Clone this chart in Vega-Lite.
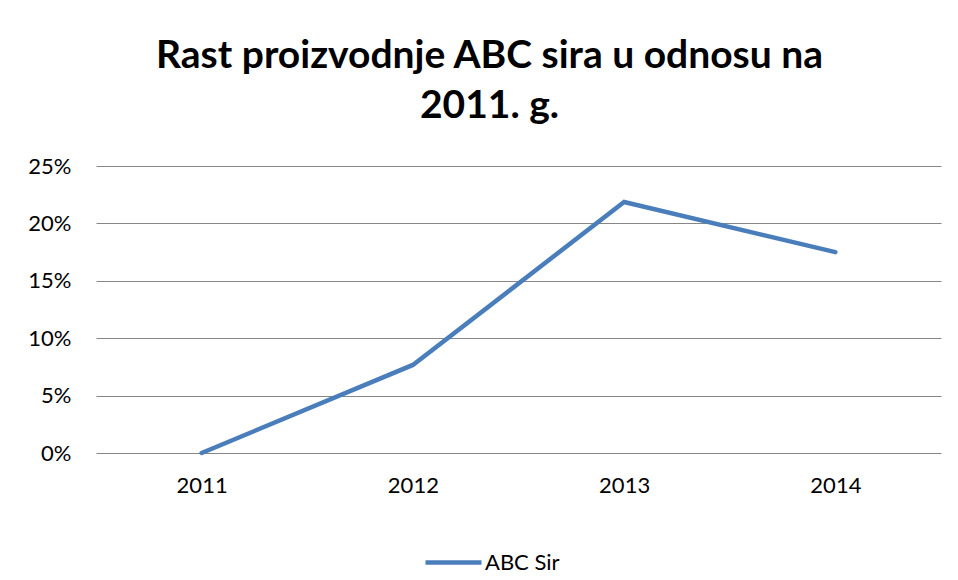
{
  "$schema": "https://vega.github.io/schema/vega-lite/v6.json",
  "width": 845,
  "height": 287,
  "autosize": {"type": "none"},
  "padding": {"left": 96, "top": 166, "right": 17, "bottom": 127},
  "background": "white",
  "title": {
    "text": ["Rast proizvodnje ABC sira u odnosu na", "2011. g."],
    "font": "Lato",
    "fontSize": 39,
    "fontWeight": "bold",
    "color": "#000000",
    "anchor": "middle",
    "dx": -29,
    "offset": 29,
    "lineHeight": 50
  },
  "data": {
    "values": [
      {"year": "2011", "value": 0.0, "series": "ABC Sir"},
      {"year": "2012", "value": 0.0767, "series": "ABC Sir"},
      {"year": "2013", "value": 0.2186, "series": "ABC Sir"},
      {"year": "2014", "value": 0.175, "series": "ABC Sir"}
    ]
  },
  "mark": {"type": "line", "strokeWidth": 4.5, "strokeCap": "round", "strokeJoin": "miter"},
  "encoding": {
    "x": {
      "field": "year",
      "type": "ordinal",
      "scale": {"type": "point", "padding": 0.5},
      "axis": {
        "title": null,
        "labelAngle": 0,
        "ticks": false,
        "domain": false,
        "labelPadding": 22,
        "labelFont": "Lato",
        "labelFontSize": 22,
        "labelColor": "#000000"
      }
    },
    "y": {
      "field": "value",
      "type": "quantitative",
      "scale": {"domain": [0, 0.25], "nice": false},
      "axis": {
        "title": null,
        "values": [0, 0.05, 0.1, 0.15, 0.2, 0.25],
        "format": ".0%",
        "ticks": false,
        "domain": false,
        "grid": true,
        "gridColor": "#868686",
        "gridWidth": 1,
        "gridOpacity": 1,
        "labelPadding": 25,
        "labelFont": "Lato",
        "labelFontSize": 22,
        "labelColor": "#000000"
      }
    },
    "color": {
      "field": "series",
      "type": "nominal",
      "scale": {"domain": ["ABC Sir"], "range": ["#4A7EBB"]},
      "legend": {
        "title": null,
        "orient": "none",
        "legendX": 327,
        "legendY": 366,
        "symbolType": "stroke",
        "symbolSize": 3136,
        "symbolStrokeWidth": 4.5,
        "labelFont": "Lato",
        "labelFontSize": 22,
        "labelColor": "#000000",
        "labelOffset": 1
      }
    }
  },
  "config": {
    "view": {"stroke": null}
  }
}
